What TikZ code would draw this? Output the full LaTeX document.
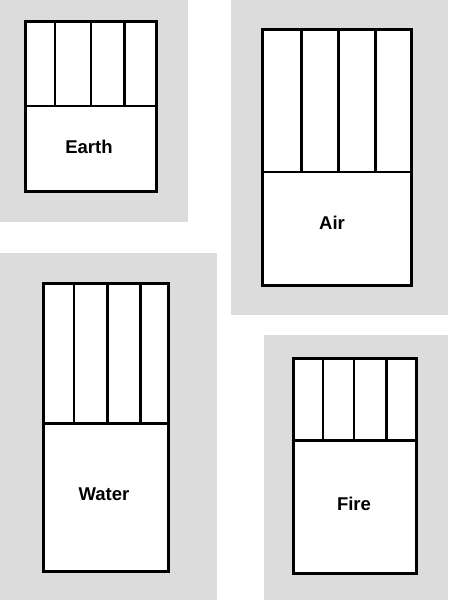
\documentclass[tikz,border=0pt]{standalone}
\usepackage{fontspec}
\setmainfont{Liberation Sans}
\begin{document}
\begin{tikzpicture}[x=1pt,y=-1pt,
  panel/.style={fill=panelgray,draw=none},
  boxline/.style={draw=black,line width=3pt,fill=white},
  divline/.style={draw=black,line width=2.8pt},
  lbl/.style={font=\fontsize{18.5}{21}\selectfont\bfseries,inner sep=0pt}]
\definecolor{panelgray}{RGB}{220,220,220}
\fill[white] (0,0) rectangle (448,600);
\useasboundingbox (0,0) rectangle (448,600);
% panels
\path[panel] (0,0) rectangle (188,222);
\path[panel] (231,0) rectangle (448,315);
\path[panel] (0,253) rectangle (217,600);
\path[panel] (264,335) rectangle (448,600);
% Earth
\path[boxline] (25.7,21.3) rectangle (156.3,191.7);
\draw[divline] (25.7,106) -- (156.3,106);
\foreach \x in {55,91,124.7} \draw[divline] (\x,21.3) -- (\x,106);
\node[lbl] (earth) at (89,147) {Earth};
% Air
\path[boxline] (262.7,29.7) rectangle (411.3,285.3);
\draw[divline] (262.7,172) -- (411.3,172);
\foreach \x in {301.3,338.3,375.7} \draw[divline] (\x,29.7) -- (\x,172);
\node[lbl] (air) at (332,223) {Air};
% Water
\path[boxline] (43.7,283.7) rectangle (168.7,571);
\draw[divline] (43.7,423.7) -- (168.7,423.7);
\foreach \x in {74,107.7,140.3} \draw[divline] (\x,283.7) -- (\x,423.7);
\node[lbl] (water) at (104,494) {Water};
% Fire
\path[boxline] (293.7,358.7) rectangle (416.7,573);
\draw[divline] (293.7,440.7) -- (416.7,440.7);
\foreach \x in {323,354,386.3} \draw[divline] (\x,358.7) -- (\x,440.7);
\node[lbl] (fire) at (354,504) {Fire};
\end{tikzpicture}
\end{document}
